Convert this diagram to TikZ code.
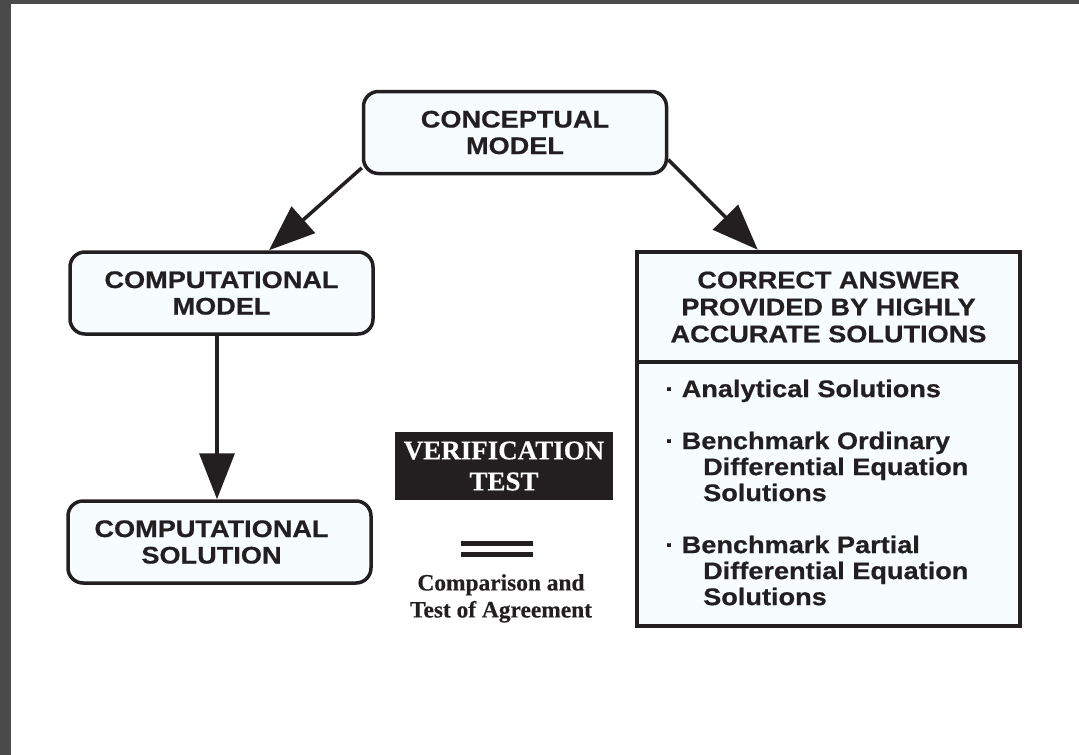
\documentclass[tikz,border=0pt]{standalone}
\usepackage{fontspec}
\newfontfamily\boxfont[FakeStretch=1.13,FakeBold=0.6]{Liberation Sans}
\newfontfamily\testfont[FakeBold=0.4]{Liberation Serif}
\usetikzlibrary{arrows.meta}
\definecolor{inkgray}{HTML}{231F20}
\definecolor{boxfill}{HTML}{F7FCFE}
\definecolor{framegray}{HTML}{4A4A4A}
\tikzset{
  modelbox/.style={draw=inkgray, line width=3.5pt, rounded corners=15pt, fill=boxfill,
    minimum width=303pt, minimum height=82pt, inner sep=0pt, align=center, text=inkgray,
    font=\boxfont\bfseries\fontsize{24}{26.5}\selectfont},
  answerbox/.style={draw=inkgray, line width=4.5pt, fill=boxfill, minimum width=383pt,
    inner sep=0pt, align=center, text=inkgray,
    font=\boxfont\bfseries\fontsize{24}{27}\selectfont},
  itemtext/.style={anchor=north west, align=left, inner sep=0pt, text=inkgray,
    font=\boxfont\bfseries\fontsize{24}{26}\selectfont},
  flow/.style={-{Triangle[length=46pt,width=35pt]}, line width=3.5pt, draw=inkgray},
}

\begin{document}
\begin{tikzpicture}[x=1pt,y=-1pt]
                \useasboundingbox (0,0) rectangle (1079,755);
                \fill[framegray] (0,0) rectangle (1079,4);
                \fill[framegray] (0,0) rectangle (10.5,755);

                \node[modelbox] (concept) at (515,132.5) {CONCEPTUAL\\MODEL};
                \node[modelbox] (cmodel) at (221.5,293) {COMPUTATIONAL\\MODEL};
                \node[modelbox] (csol) at (219.5,542)
                    {COMPUTATIONAL\hspace*{16pt}\\SOLUTION\hspace*{16pt}};

                \node[answerbox, minimum height=264pt] (list) at (828.5,494) {};
                \node[answerbox, minimum height=110pt] (answer) at (828.5,307)
                    {CORRECT ANSWER\\PROVIDED BY HIGHLY\\ACCURATE SOLUTIONS};

                \node[itemtext] (analytic) at (665,379.5) {· Analytical Solutions};
                \node[itemtext] (odebench) at (665,431.5)
                    {· Benchmark Ordinary\\\hspace*{38pt}Differential Equation\\\hspace*{38pt}Solutions};
                \node[itemtext] (pdebench) at (665,535.5)
                    {· Benchmark Partial\\\hspace*{38pt}Differential Equation\\\hspace*{38pt}Solutions};

                \node[fill=inkgray, minimum width=218pt, minimum height=68pt, inner sep=0pt,
                    align=center, text=white, font=\testfont\bfseries\fontsize{27}{31}\selectfont]
                    (vtest) at (504,466) {VERIFICATION\\TEST};
                \draw[line width=5pt, inkgray] (461,543.5) -- (533,543.5);
                \draw[line width=5pt, inkgray] (461,554.5) -- (533,554.5);
                \node[anchor=north, align=center, inner sep=0pt, text=inkgray,
                    font=\testfont\bfseries\fontsize{23.4}{27}\selectfont]
                    (agree) at (501,574) {Comparison and\\Test of Agreement};

                \draw[flow] (concept.193) -- (cmodel.42);
                \draw[flow] (concept.-10) -- (answer.141);
                \draw[flow] ([xshift=-4.5pt]cmodel.south) -- ([xshift=-2.5pt]csol.north);
            \end{tikzpicture}
\end{document}
